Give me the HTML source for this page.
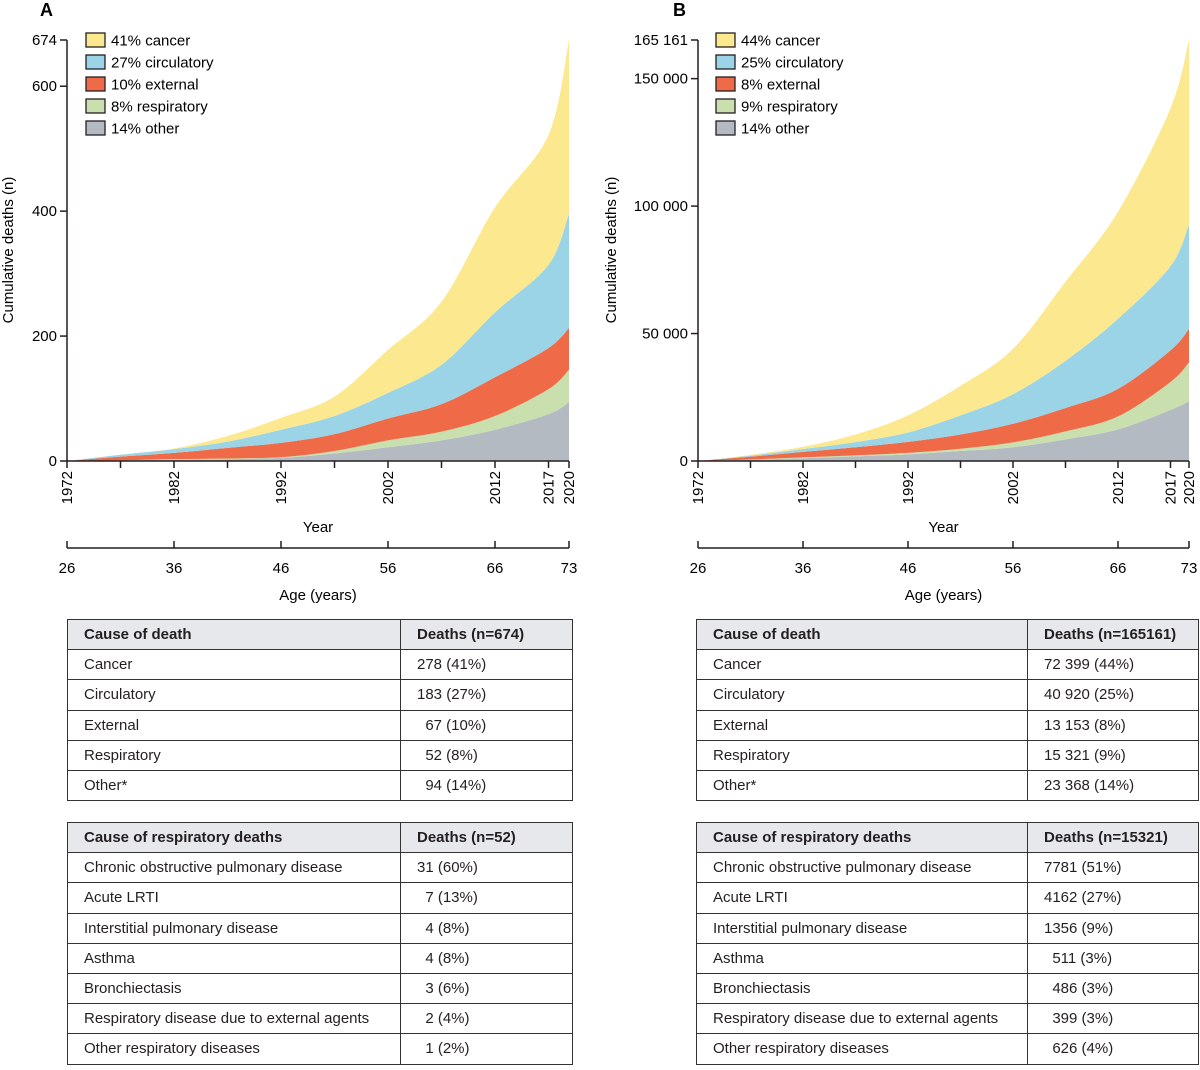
<!DOCTYPE html>
<html><head><meta charset="utf-8"><style>
body{margin:0;background:#fff;font-family:"Liberation Sans",sans-serif;color:#231f20}
#wrap{position:relative;width:1200px;height:1070px;overflow:hidden}
svg{position:absolute;left:0;top:0}
table{position:absolute;border-collapse:collapse;font-size:15px;table-layout:fixed}
td,th{border:1.5px solid #333;height:29.2px;padding:0 0 0 16px;text-align:left;white-space:nowrap}
th{background:#e6e8ec;font-weight:600}
</style></head><body><div id="wrap">
<svg id="chart" width="1200" height="610"></svg>

<table style="left:67px;top:619px;width:506px">
<colgroup><col style="width:333px"><col></colgroup>
<tr><th>Cause of death</th><th>Deaths (n=674)</th></tr>
<tr><td>Cancer</td><td>278 (41%)</td></tr>
<tr><td>Circulatory</td><td>183 (27%)</td></tr>
<tr><td>External</td><td>&nbsp;&nbsp;67 (10%)</td></tr>
<tr><td>Respiratory</td><td>&nbsp;&nbsp;52 (8%)</td></tr>
<tr><td>Other*</td><td>&nbsp;&nbsp;94 (14%)</td></tr>
</table>
<table style="left:67px;top:822px;width:506px">
<colgroup><col style="width:333px"><col></colgroup>
<tr><th>Cause of respiratory deaths</th><th>Deaths (n=52)</th></tr>
<tr><td>Chronic obstructive pulmonary disease</td><td>31 (60%)</td></tr>
<tr><td>Acute LRTI</td><td>&nbsp;&nbsp;7 (13%)</td></tr>
<tr><td>Interstitial pulmonary disease</td><td>&nbsp;&nbsp;4 (8%)</td></tr>
<tr><td>Asthma</td><td>&nbsp;&nbsp;4 (8%)</td></tr>
<tr><td>Bronchiectasis</td><td>&nbsp;&nbsp;3 (6%)</td></tr>
<tr><td>Respiratory disease due to external agents</td><td>&nbsp;&nbsp;2 (4%)</td></tr>
<tr><td>Other respiratory diseases</td><td>&nbsp;&nbsp;1 (2%)</td></tr>
</table>
<table style="left:696px;top:619px;width:503px">
<colgroup><col style="width:331px"><col></colgroup>
<tr><th>Cause of death</th><th>Deaths (n=165161)</th></tr>
<tr><td>Cancer</td><td>72 399 (44%)</td></tr>
<tr><td>Circulatory</td><td>40 920 (25%)</td></tr>
<tr><td>External</td><td>13 153 (8%)</td></tr>
<tr><td>Respiratory</td><td>15 321 (9%)</td></tr>
<tr><td>Other*</td><td>23 368 (14%)</td></tr>
</table>
<table style="left:696px;top:822px;width:503px">
<colgroup><col style="width:331px"><col></colgroup>
<tr><th>Cause of respiratory deaths</th><th>Deaths (n=15321)</th></tr>
<tr><td>Chronic obstructive pulmonary disease</td><td>7781 (51%)</td></tr>
<tr><td>Acute LRTI</td><td>4162 (27%)</td></tr>
<tr><td>Interstitial pulmonary disease</td><td>1356 (9%)</td></tr>
<tr><td>Asthma</td><td>&nbsp;&nbsp;511 (3%)</td></tr>
<tr><td>Bronchiectasis</td><td>&nbsp;&nbsp;486 (3%)</td></tr>
<tr><td>Respiratory disease due to external agents</td><td>&nbsp;&nbsp;399 (3%)</td></tr>
<tr><td>Other respiratory diseases</td><td>&nbsp;&nbsp;626 (4%)</td></tr>
</table>
</div>
<script>
const years = [1972,1977,1982,1987,1992,1997,2002,2007,2012,2017,2020];
const seriesNames = ["other","respiratory","external","circulatory","cancer"];
const colors = ["#b4bac1","#c9e0ae","#ef6b48","#9ad4e6","#fce98f"];
const yearTicks = [1972,1982,1992,2002,2012,2017,2020];
const ageTicks = ["26","36","46","56","66","73"];
const ageTickYears = [1972,1982,1992,2002,2012,2020];
// Panel A
const aOther = [0,1,2,3,5,12,22,33,50,75,94];
const aResp = [0,0,1,1,1,4,11,14,22,40,52];
const aExt = [0,6,10,17,23,27,35,44,62,66,67];
const aCirc = [0,3,6,10,21,29,41,63,104,133,183];
const aCancer = [0,0,1,9,19,31,69,101,168,208,278];
const aYTicks = [0,200,400,600,674];
const aYLabels = ["0","200","400","600","674"];
const aLegend = ["41% cancer","27% circulatory","10% external","8% respiratory","14% other"];
// Panel B
const bOther = [0,500,1100,1800,2600,3900,5400,8500,12400,20000,23368];
const bResp = [0,100,300,400,600,900,1900,3100,5100,11000,15321];
const bExt = [0,1100,2200,3200,4300,5600,7300,9200,10800,12400,13153];
const bCirc = [0,400,1100,2000,3700,7500,11600,18500,27500,33000,40920];
const bCancer = [0,300,900,3000,6700,11600,17800,31000,42000,62000,72399];
const bYTicks = [0,50000,100000,150000,165161];
const bYLabels = ["0","50 000","100 000","150 000","165 161"];
const bLegend = ["44% cancer","25% circulatory","8% external","9% respiratory","14% other"];

const NS="http://www.w3.org/2000/svg";
const svg=document.getElementById('chart');
function mk(tag,attrs,parent){const e=document.createElementNS(NS,tag);for(const k in attrs)e.setAttribute(k,attrs[k]);(parent||svg).appendChild(e);return e;}
function smooth(pts){
  let d='';
  for(let i=0;i<pts.length-1;i++){
    const p0=pts[Math.max(i-1,0)],p1=pts[i],p2=pts[i+1],p3=pts[Math.min(i+2,pts.length-1)];
    const c1=[p1[0]+(p2[0]-p0[0])/6,p1[1]+(p2[1]-p0[1])/6];
    const c2=[p2[0]-(p3[0]-p1[0])/6,p2[1]-(p3[1]-p1[1])/6];
    d+=`C${c1[0]},${c1[1]} ${c2[0]},${c2[1]} ${p2[0]},${p2[1]}`;
  }
  return d;
}
function panel(p){
  const g=mk('g',{});
  
  
  const xS=yr=> yr<=2017 ? p.x0+(yr-1972)*p.py : p.x0+45*p.py+(yr-2017)*(p.xEnd-(p.x0+45*p.py))/3;
  const yS=v=>461-v*(421/p.max);
  let base=years.map(()=>0);
  p.series.forEach((s,i)=>{
    const top=base.map((b,j)=>b+s[j]);
    const tp=years.map((y,j)=>[xS(y),yS(top[j])]);
    const bp=years.map((y,j)=>[xS(y),yS(base[j])]).reverse();
    const d='M'+tp[0].join(',')+smooth(tp)+'L'+bp[0].join(',')+smooth(bp)+'Z';
    const path=mk('path',{d:d,fill:colors[i]},g);
    
    
    base=top;
  });
  mk('line',{x1:p.x0,y1:40,x2:p.x0,y2:461,stroke:'#231f20','stroke-width':1.5},g);
  mk('line',{x1:p.x0,y1:461,x2:p.xEnd,y2:461,stroke:'#231f20','stroke-width':1.5},g);
  p.yTicks.forEach((v,i)=>{
    mk('line',{x1:p.x0-7,x2:p.x0,y1:yS(v),y2:yS(v),stroke:'#231f20','stroke-width':1.5},g);
    const t=mk('text',{x:p.x0-10,y:yS(v)+5,'text-anchor':'end','font-size':15},g);
    t.textContent=p.yLabels[i];
    
    
  });
  for(let y=1972;y<=2017;y+=5){
    mk('line',{x1:xS(y),x2:xS(y),y1:461,y2:468,stroke:'#231f20','stroke-width':1.5},g);}
  mk('line',{x1:xS(2020),x2:xS(2020),y1:461,y2:468,stroke:'#231f20','stroke-width':1.5},g);
  yearTicks.forEach(y=>{
    const x=xS(y)+5;
    const t=mk('text',{x:x,y:471,'text-anchor':'end','font-size':15,transform:`rotate(-90 ${x} 471)`},g);
    t.textContent=y;
    
    
  });
  const xt=mk('text',{x:(p.x0+p.xEnd)/2,y:532,'text-anchor':'middle','font-size':15},g);
  xt.textContent='Year';
  
  
  const yt=mk('text',{x:0,y:0,'text-anchor':'middle','font-size':15,transform:`translate(${p.ytx},250) rotate(-90)`},g);
  yt.textContent='Cumulative deaths (n)';
  
  
  mk('line',{x1:p.x0,y1:548,x2:p.xEnd,y2:548,stroke:'#231f20','stroke-width':1.5},g);
  ageTicks.forEach((a,i)=>{
    const x=xS(ageTickYears[i]);
    mk('line',{x1:x,x2:x,y1:541,y2:548,stroke:'#231f20','stroke-width':1.5},g);
    const t=mk('text',{x:x,y:573,'text-anchor':'middle','font-size':15},g);
    t.textContent=a;
    
    
  });
  const at=mk('text',{x:(p.x0+p.xEnd)/2,y:600,'text-anchor':'middle','font-size':15},g);
  at.textContent='Age (years)';
  
  
  p.legend.forEach((l,i)=>{
    const ci=4-i;const y=33+i*22;
    const r=mk('rect',{x:p.lx,y:y,width:19,height:14,fill:colors[ci],stroke:'#231f20','stroke-width':1.3},g);
    
    
    const t=mk('text',{x:p.lx+25,y:y+12.5,'font-size':15},g);
    t.textContent=l;
    
    
  });
  const lt=mk('text',{x:p.letterX,y:16,'font-size':18,'font-weight':'bold'},g);
  lt.textContent=p.id;
  
  
}
panel({id:'A',x0:67,py:10.7,xEnd:569,max:674,series:[aOther,aResp,aExt,aCirc,aCancer],yTicks:aYTicks,yLabels:aYLabels,legend:aLegend,lx:86,letterX:40,ytx:13});
panel({id:'B',x0:698,py:10.5,xEnd:1189,max:165161,series:[bOther,bResp,bExt,bCirc,bCancer],yTicks:bYTicks,yLabels:bYLabels,legend:bLegend,lx:716,letterX:673,ytx:616});
</script>
</body></html>
